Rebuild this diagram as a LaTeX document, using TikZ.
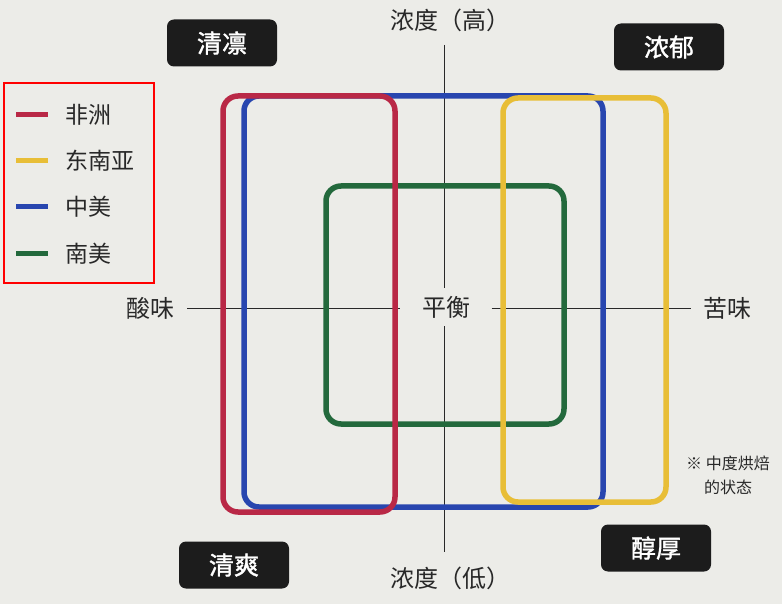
\documentclass[tikz,border=0pt]{standalone}
\usepackage{fontspec}
\setmainfont{Noto Sans CJK SC}
\newfontfamily\cjkbold{Noto Sans CJK SC}[FakeBold=1.5]
\definecolor{paper}{RGB}{236,236,232}
\definecolor{afr}{RGB}{185,40,70}
\definecolor{asia}{RGB}{232,190,55}
\definecolor{camer}{RGB}{40,70,175}
\definecolor{samer}{RGB}{35,105,60}
\definecolor{ink}{RGB}{40,40,40}
\definecolor{tagbg}{RGB}{28,28,28}
\tikzset{
	tag/.style={fill=tagbg,text=white,rounded corners=7pt,minimum width=110pt,minimum height=47pt,inner sep=0pt,font=\cjkbold\fontsize{25}{30}\selectfont},
	lbl/.style={text=ink,inner sep=0pt,font=\fontsize{24}{28}\selectfont},
	zone/.style={line width=5.5pt,rounded corners=15pt},
	key/.style={line width=5pt},
}
\begin{document}
\begin{tikzpicture}[x=1pt,y=-1pt]
			\fill[paper] (0,0) rectangle (782,604);
			\useasboundingbox (0,0) rectangle (782,604);
			\node[lbl] (hi) at (450,20) {浓度（高）};
			\node[lbl] (lo) at (450,578) {浓度（低）};
			\node[lbl] (sour) at (150,308) {酸味};
			\node[lbl] (bitter) at (727,308) {苦味};
			\node[lbl,minimum width=91pt,minimum height=38pt] (bal) at (446,307) {平衡};
			\coordinate (vt) at (444,45);
			\coordinate (vb) at (444,552);
			\coordinate (hl) at (187,308);
			\coordinate (hr) at (691,308);
			\draw[ink,line width=1pt] (vt) -- (vt |- bal.north) (vb |- bal.south) -- (vb);
			\draw[ink,line width=1pt] (hl) -- (hl -| bal.west) (hr -| bal.east) -- (hr);
			\draw[zone,camer] (244,96) rectangle (603,507);
			\draw[zone,samer] (326,186) rectangle (564,424);
			\draw[zone,asia] (503,98) rectangle (666,502);
			\draw[zone,afr] (223,96) rectangle (395,512);
			\node[tag] (crisp) at (222,43) {清凛};
			\node[tag] (rich) at (669,47) {浓郁};
			\node[tag] (fresh) at (234,565) {清爽};
			\node[tag] (mellow) at (656,548) {醇厚};
			\draw[red,line width=1.8pt] (4,83) rectangle (154,283);
			\foreach \y/\c/\t [count=\i] in {115/afr/非洲,161/asia/东南亚,207/camer/中美,254/samer/南美}{
				\coordinate (ka\i) at (16,\y);
				\coordinate (kb\i) at (48,\y);
				\draw[key,\c] (ka\i) -- (kb\i);
				\node[lbl,anchor=west,font=\fontsize{23}{27}\selectfont] (kt\i) at (65,\y) {\t};
			}
			\node[lbl,anchor=west,font=\fontsize{16}{24}\selectfont] (note) at (686,463) {※ 中度烘焙};
			\node[lbl,anchor=west,font=\fontsize{16}{24}\selectfont] (notemore) at (704,487) {的状态};
\end{tikzpicture}
\end{document}
